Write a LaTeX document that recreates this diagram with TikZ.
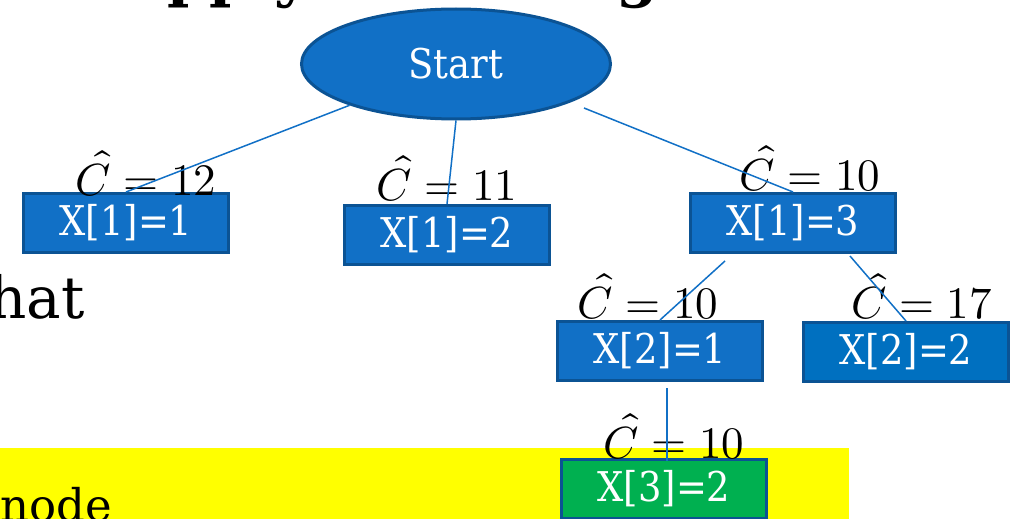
\documentclass[tikz,border=0pt]{standalone}
\usepackage{fontspec}
\usepackage{unicode-math}
\setmathfont{Latin Modern Math}
\usetikzlibrary{shapes.geometric,calc}
\newfontfamily\slabfont{DejaVu Serif}
\newfontfamily\slabbold{DejaVu Serif Bold}
\newfontfamily\boxfont{DejaVu Serif}[FakeStretch=0.9]
\definecolor{nodeblue}{HTML}{1170C6}
\definecolor{nodeblueB}{HTML}{0070C0}
\definecolor{rimblue}{HTML}{0B5394}
\definecolor{leafgreen}{HTML}{00B050}
\definecolor{hilite}{HTML}{FFFF00}
\tikzset{
  statebox/.style={rectangle, draw=rimblue, line width=3pt, fill=nodeblue,
    minimum width=205pt, minimum height=59pt, inner sep=0pt,
    text=white, font=\boxfont\fontsize{41}{44}\selectfont},
  costlabel/.style={anchor=base, inner sep=0pt, font=\fontsize{45}{50}\selectfont},
  edge/.style={draw=nodeblue, line width=1.5pt},
}
\begin{document}
\begin{tikzpicture}[x=1pt,y=-1pt]
\useasboundingbox (0,0) rectangle (1018,519);
\clip (0,0) rectangle (1018,519);

% slide background pieces
\fill[hilite] (0,448) rectangle (849,519);
\node[anchor=base west, inner sep=0pt, font=\slabbold\fontsize{60}{60}\selectfont] (title) at (121,-4) {Apply Bounding};
\node[anchor=base east, inner sep=0pt, font=\slabfont\fontsize{58}{60}\selectfont] (hat) at (85,318) {hat};
\node[anchor=base west, inner sep=0pt, font=\slabfont\fontsize{45}{50}\selectfont] (nodeword) at (0,521) {node};

% tree
\node[ellipse, draw=rimblue, line width=3pt, fill=nodeblue, minimum width=309pt, minimum height=110pt,
      inner sep=0pt, text=white, font=\boxfont\fontsize{41}{44}\selectfont] (start) at (456,64) {Start};

\node[statebox] (x11) at (126,223) {X[1]=1};
\node[statebox] (x12) at (447,235) {X[1]=2};
\node[statebox] (x13) at (793,223) {X[1]=3};
\node[statebox] (x21) at (660,351) {X[2]=1};
\node[statebox, fill=nodeblueB] (x22) at (906,352) {X[2]=2};
\node[statebox, fill=leafgreen] (x32) at (664,489) {X[3]=2};

\node[costlabel] (c11) at (146,195) {$\hat{C} = 12$};
\node[costlabel] (c12) at (447,200) {$\hat{C} = 11$};
\node[costlabel] (c13) at (810,190) {$\hat{C} = 10$};
\node[costlabel] (c21) at (648,318) {$\hat{C} = 10$};
\node[costlabel] (c22) at (922,318) {$\hat{C} = 17$};
\node[costlabel] (c32) at (674,458) {$\hat{C} = 10$};

% branches
\draw[edge] (start) -- (x11.north);
\draw[edge] (start.south) -- (x12.north);
\draw[edge] ($(start.center)+(128,44)$) -- (x13.north);
\draw[edge] ($(x13.south)+(-68,7)$) -- (x21.north);
\draw[edge] ($(x13.south)+(57,2)$) -- (x22.north);
\draw[edge] ($(x21.south)+(7,6)$) -- ($(x32.north)+(3,3)$);
\end{tikzpicture}
\end{document}
